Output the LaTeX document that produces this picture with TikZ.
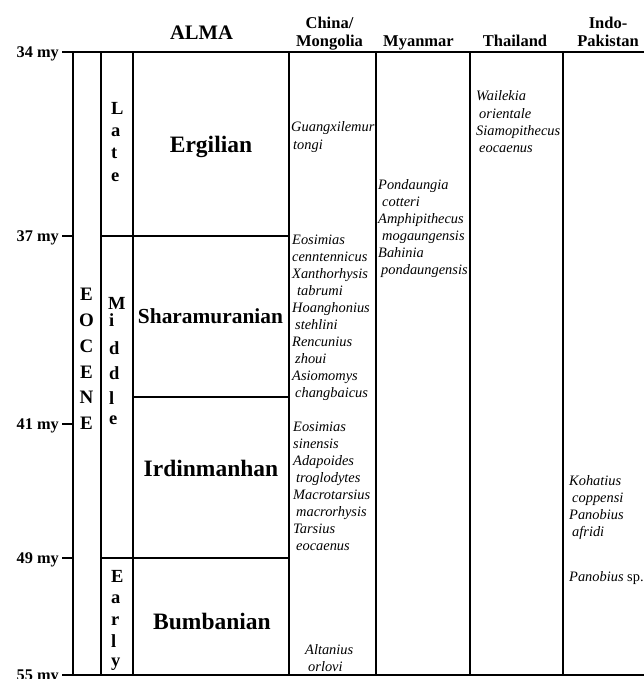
\documentclass[tikz,border=0pt]{standalone}
\usepackage{fontspec}
\setmainfont{Liberation Serif}
\begin{document}
\begin{tikzpicture}[x=1pt,y=-1pt,
  rule/.style={line width=1.3pt},
  hdr/.style={font=\bfseries\fontsize{16.5}{17.5}\selectfont, align=center, inner sep=0, anchor=base},
  age/.style={font=\bfseries\fontsize{16.3}{18}\selectfont, inner sep=0, anchor=base east},
  stage/.style={font=\bfseries\fontsize{23.5}{26}\selectfont, inner sep=0, anchor=base},
  vlet/.style={font=\bfseries\fontsize{18.5}{20}\selectfont, inner sep=0, anchor=base west},
  eolet/.style={font=\bfseries\fontsize{19}{20}\selectfont, inner sep=0, anchor=base},
  taxa/.style={font=\itshape\fontsize{14.4}{17.1}\selectfont, align=left, inner sep=0, anchor=base west}]
\useasboundingbox (0,0) rectangle (644,679);
\fill[white] (0,0) rectangle (644,679);

% coordinates of the grid
\coordinate (tl) at (62,52);
\coordinate (tr) at (644,52);
\coordinate (bl) at (62,675);
\coordinate (br) at (644,675);

% horizontal rules
\draw[rule] (tl) -- (tr);
\draw[rule] (bl) -- (br);
\draw[rule] (62,236) -- (73,236);
\draw[rule] (62,424) -- (73,424);
\draw[rule] (62,558) -- (73,558);
\draw[rule] (101,236) -- (289,236);
\draw[rule] (133,397) -- (289,397);
\draw[rule] (101,558) -- (289,558);

% vertical rules
\foreach \x in {73,101,133,289,376,470,563}
  \draw[rule] (\x,52) -- (\x,675);

% headers (anchor = baseline of the last line)
\node[font=\bfseries\fontsize{20.6}{22}\selectfont, inner sep=0, anchor=base] (alma) at (201.5,40) {ALMA};
\node[hdr] (china) at (329.5,46.5) {China/\\Mongolia};
\node[hdr] (myan) at (418.5,46.5) {Myanmar};
\node[hdr] (thai) at (515,46.5) {Thailand};
\node[hdr] (indo) at (608,46.5) {Indo-\\Pakistan};

% ages
\node[age] (a34) at (59,57.5) {34 my};
\node[age] (a37) at (59,241.5) {37 my};
\node[age] (a41) at (59,429.5) {41 my};
\node[age] (a49) at (59,563.5) {49 my};
\node[age] (a55) at (59,680.5) {55 my};

% EOCENE
\foreach \l [count=\i] in {E,O,C,E,N,E}
  \node[eolet] (eo\i) at (86.5,{300.7+25.8*(\i-1)}) {\l};

% Late / Middle / Early
\node[vlet] (lt1) at (111,115) {L};
\node[vlet] (lt2) at (111,136.5) {a};
\node[vlet] (lt3) at (111,159) {t};
\node[vlet] (lt4) at (111,181.5) {e};

\node[vlet] (md1) at (108,309) {M};
\node[vlet] (md2) at (109,326) {i};
\node[vlet] (md3) at (109,354) {d};
\node[vlet] (md4) at (109,379.5) {d};
\node[vlet] (md5) at (109,404.5) {l};
\node[vlet] (md6) at (109,424) {e};

\node[vlet] (ea1) at (111,582) {E};
\node[vlet] (ea2) at (111,603.5) {a};
\node[vlet] (ea3) at (111,625) {r};
\node[vlet] (ea4) at (111,647) {l};
\node[vlet] (ea5) at (111,666) {y};

% stages
\node[stage] (erg) at (211,152.5) {Ergilian};
\node[stage, font=\bfseries\fontsize{21.4}{24}\selectfont] (sha) at (210.5,323) {Sharamuranian};
\node[stage] (ird) at (211,476) {Irdinmanhan};
\node[stage] (bum) at (212,629) {Bumbanian};

% China / Mongolia (anchor = baseline of the last line)
\node[taxa] (cm1) at (291,149.1) {Guangxilemur\\\hspace*{2pt}tongi};
\node[taxa] (cm2) at (292,397.9) {Eosimias\\cenntennicus\\Xanthorhysis\\\hspace*{5pt}tabrumi\\Hoanghonius\\\hspace*{3pt}stehlini\\Rencunius\\\hspace*{3pt}zhoui\\Asiomomys\\\hspace*{3pt}changbaicus};
\node[taxa] (cm3) at (293,550.7) {Eosimias\\sinensis\\Adapoides\\\hspace*{3pt}troglodytes\\Macrotarsius\\\hspace*{3pt}macrorhysis\\Tarsius\\\hspace*{3pt}eocaenus};
\node[taxa] (cm4) at (305,671.1) {Altanius\\\hspace*{3pt}orlovi};

% Myanmar
\node[taxa] (my1) at (378,274.5) {Pondaungia\\\hspace*{4pt}cotteri\\Amphipithecus\\\hspace*{4pt}mogaungensis\\Bahinia\\\hspace*{3pt}pondaungensis};

% Thailand
\node[taxa] (th1) at (476,152.3) {Wailekia\\\hspace*{3pt}orientale\\Siamopithecus\\\hspace*{3pt}eocaenus};

% Indo-Pakistan
\node[taxa] (ip1) at (569,536.3) {Kohatius\\\hspace*{3pt}coppensi\\Panobius\\\hspace*{3pt}afridi};
\node[taxa] (ip2) at (569,581) {Panobius \upshape sp.};
\end{tikzpicture}
\end{document}
